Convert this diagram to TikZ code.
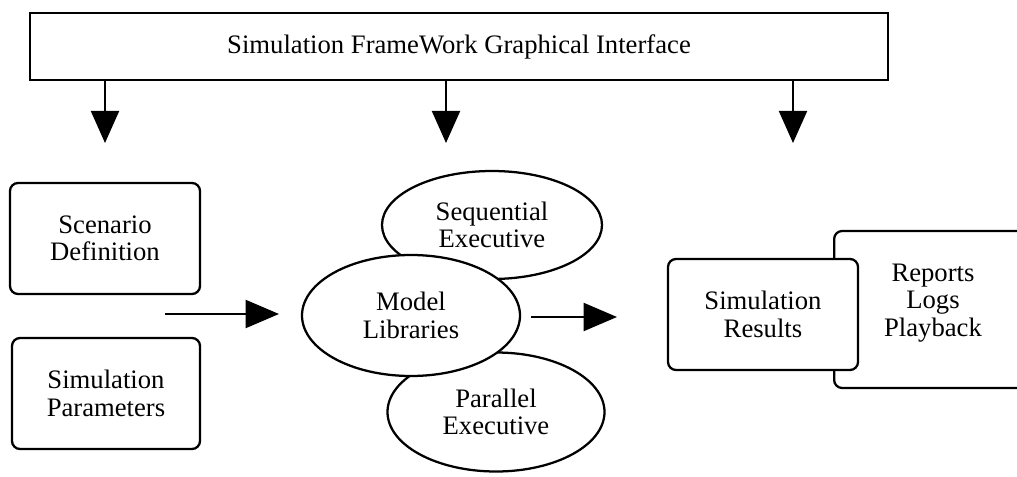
\documentclass[tikz,border=0pt]{standalone}
\usepackage{fontspec}
\setmainfont{Liberation Serif}
\usetikzlibrary{shapes.geometric,arrows.meta}
\begin{document}
\begin{tikzpicture}[x=0.75pt,y=-0.75pt,
  every node/.style={font=\fontsize{20pt}{20.5pt}\selectfont, align=center, inner sep=0pt},
  frame/.style={draw, line width=1.7pt, fill=white},
  roundbox/.style={frame, rounded corners=6pt},
  oval/.style={frame, ellipse},
  feed/.style={line width=1.5pt, -{Triangle[length=24pt,width=21pt]}},
  flow/.style={line width=1.5pt, -{Triangle[length=25pt,width=21pt]}}]
\useasboundingbox (0,0) rectangle (1017,477);

% interface bar
\node[frame, minimum width=858*0.75pt, minimum height=67*0.75pt] (gui) at (459,46.5)
  {Simulation FrameWork Graphical Interface};
\coordinate (t1) at (105,143);
\coordinate (t2) at (446,143);
\coordinate (t3) at (793,143);
\draw[feed] (gui.south -| t1) -- (t1);
\draw[feed] (gui.south -| t2) -- (t2);
\draw[feed] (gui.south -| t3) -- (t3);

% inputs
\node[roundbox, minimum width=190*0.75pt, minimum height=111*0.75pt] (scen) at (105,238.5)
  {Scenario\\Definition};
\node[roundbox, minimum width=188*0.75pt, minimum height=111*0.75pt] (par) at (106,393.5)
  {Simulation\\Parameters};
\coordinate (in0) at (165,314);
\coordinate (in1) at (279,314);
\draw[flow] (in0) -- (in1);

% executives and model libraries
\node[oval, minimum width=220*0.75pt, minimum height=108*0.75pt] (seq) at (492,225)
  {Sequential\\Executive};
\node[oval, minimum width=217*0.75pt, minimum height=119*0.75pt] (pexec) at (496,412)
  {Parallel\\Executive};
\node[oval, minimum width=218*0.75pt, minimum height=121*0.75pt] (model) at (411,315.5)
  {Model\\Libraries};
\coordinate (out0) at (531,317);
\coordinate (out1) at (617,317);
\draw[flow] (out0) -- (out1);

% outputs
\node[roundbox, minimum width=240*0.75pt, minimum height=157*0.75pt, anchor=west] (rep) at (833,309.5) {};
\node (reptext) at (933,303) {Reports\\Logs\\Playback};
\node[roundbox, minimum width=190*0.75pt, minimum height=111*0.75pt] (res) at (763,314.5)
  {Simulation\\Results};
\end{tikzpicture}
\end{document}
